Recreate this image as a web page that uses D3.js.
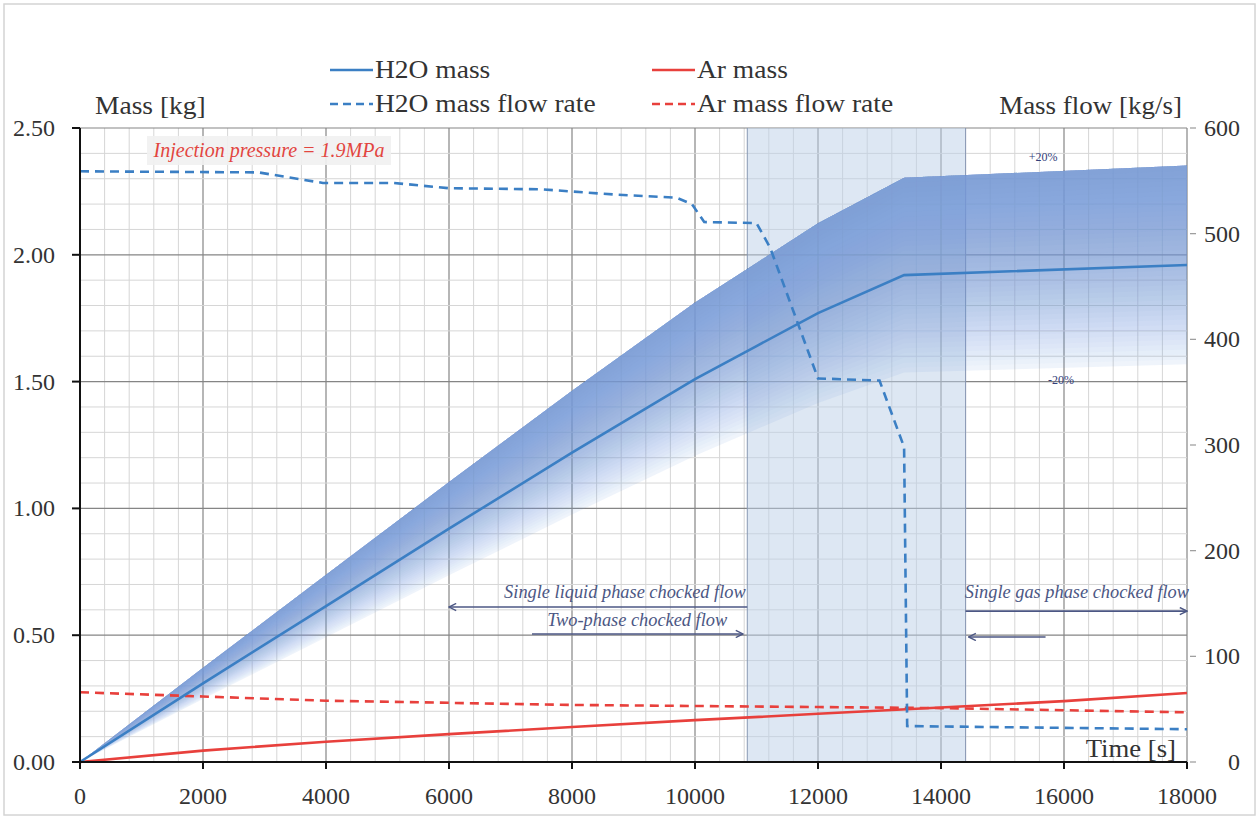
<!DOCTYPE html>
<html><head><meta charset="utf-8">
<script src="https://cdn.jsdelivr.net/npm/d3@7"></script>
<style>
body{margin:0;background:#fff}
svg{display:block}
text{font-family:"Liberation Serif","Times New Roman",serif;fill:#333}
</style>
</head><body>
<svg id="c" width="1260" height="819"></svg>
<script>
// ---------- data ----------
const timeTicks = [0, 2000, 4000, 6000, 8000, 10000, 12000, 14000, 16000, 18000];
const massTicks = [0, 0.5, 1.0, 1.5, 2.0, 2.5];
const flowTicks = [0, 100, 200, 300, 400, 500, 600];

const h2oMassTime = [0, 2000, 4000, 6000, 8000, 10000, 11000, 12000, 13400, 18000];
const h2oMass     = [0, 0.31, 0.615, 0.92, 1.22, 1.51, 1.64, 1.77, 1.92, 1.96];

const arMassTime = [0, 2000, 4000, 6000, 8000, 10000, 12000, 14000, 16000, 18000];
const arMass     = [0, 0.045, 0.08, 0.11, 0.138, 0.165, 0.19, 0.215, 0.24, 0.272];

const h2oFlowTime = [0, 2900, 3950, 5100, 6000, 7500, 8700, 9700, 9950, 10150, 11000, 11220, 12000, 13000, 13400, 13450, 18000];
const h2oFlow     = [559, 558, 548, 548, 543, 542, 537, 534, 528, 511, 510, 487, 363, 361, 298, 34, 31];

const arFlowTime = [0, 2000, 4000, 6000, 8000, 10000, 12000, 14000, 16000, 18000];
const arFlow     = [66, 62, 58, 56, 54, 53, 52, 51, 49, 47];

const bandLow = 0.8, bandHigh = 1.2;          // ±20 % uncertainty band
const shadedRange = [10850, 14400];             // shaded time window

const seriesNames = ["H2O mass", "Ar mass", "H2O mass flow rate", "Ar mass flow rate"];

// ---------- layout ----------
const svg = d3.select("#c");
const L = 80, R = 1187, T = 128, B = 762;
const x = d3.scaleLinear().domain([0, 18000]).range([L, R]);
const yL = d3.scaleLinear().domain([0, 2.5]).range([B, T]);
const yR = d3.scaleLinear().domain([0, 600]).range([B, T]);

const BLUE = "#3b7fc4", RED = "#e8403c", ANN = "#4c5784";

// text helper with horizontal stretch
function txt(g, px, py, s, size, opts = {}) {
  const sx = opts.sx || 1;
  const t = g.append("text")
    .attr("transform", `translate(${px},${py}) scale(${sx},1)`)
    .attr("font-size", size)
    .attr("text-anchor", opts.anchor || "start")
    .text(s);
  if (opts.italic) t.attr("font-style", "italic");
  if (opts.fill) t.style("fill", opts.fill);
  return t;
}

// outer frame
svg.append("rect").attr("x", 4).attr("y", 4).attr("width", 1251).attr("height", 811)
  .attr("fill", "#fff").attr("stroke", "#d4d4d4").attr("stroke-width", 1.5);

// ---------- grid ----------
const grid = svg.append("g");
d3.range(0, 18001, 400).forEach(v => {
  const major = v % 2000 === 0;
  grid.append("line").attr("x1", x(v)).attr("x2", x(v)).attr("y1", T).attr("y2", B)
    .attr("stroke", major ? "#858585" : "#d6d6d6").attr("stroke-width", major ? 1.2 : 1);
});
d3.range(0, 26).forEach(i => {
  const v = i / 10;
  const major = i % 5 === 0;
  grid.append("line").attr("x1", L).attr("x2", R).attr("y1", yL(v)).attr("y2", yL(v))
    .attr("stroke", major ? "#858585" : "#d6d6d6").attr("stroke-width", major ? 1.2 : 1);
});

// shaded window
svg.append("rect").attr("x", x(shadedRange[0])).attr("y", T)
  .attr("width", x(shadedRange[1]) - x(shadedRange[0])).attr("height", B - T)
  .attr("fill", "#bccfe8").attr("fill-opacity", 0.5);
[shadedRange[0], shadedRange[1]].forEach(v =>
  svg.append("line").attr("x1", x(v)).attr("x2", x(v)).attr("y1", T).attr("y2", B)
    .attr("stroke", "#8797b3").attr("stroke-width", 1));

// ---------- uncertainty band (fading) ----------
const h2oData = h2oMassTime.map((t, i) => ({t, m: h2oMass[i]}));
const N = 40;
const alphaAt = t => 0.9 - 0.3 * t - 0.5 * t * t;   // t: 0 at +20 %, 1 at -20 %
let prevA = 0;
const bandG = svg.append("g");
for (let j = 0; j < N; j++) {
  const r = bandLow + (bandHigh - bandLow) * j / N;
  const tMid = (bandHigh - (r + (bandHigh - bandLow) / (2 * N))) / (bandHigh - bandLow);
  const A = alphaAt(tMid);
  const a = 1 - (1 - A) / (1 - prevA);
  prevA = A;
  const area = d3.area().x(d => x(d.t)).y0(d => yL(r * d.m)).y1(d => yL(bandHigh * d.m));
  bandG.append("path").attr("d", area(h2oData)).attr("fill", "rgb(122,158,218)")
    .attr("fill-opacity", Math.max(0, a));
}

// ---------- lines ----------
const lineL = d3.line().x(d => x(d[0])).y(d => yL(d[1]));
const lineR = d3.line().x(d => x(d[0])).y(d => yR(d[1]));
const zip = (a, b) => a.map((v, i) => [v, b[i]]);

svg.append("path").attr("d", lineL(zip(arMassTime, arMass)))
  .attr("fill", "none").attr("stroke", RED).attr("stroke-width", 2.6);
svg.append("path").attr("d", lineR(zip(arFlowTime, arFlow)))
  .attr("fill", "none").attr("stroke", RED).attr("stroke-width", 2.6).attr("stroke-dasharray", "9,6");
svg.append("path").attr("d", lineL(zip(h2oMassTime, h2oMass)))
  .attr("fill", "none").attr("stroke", BLUE).attr("stroke-width", 2.6);
svg.append("path").attr("d", lineR(zip(h2oFlowTime, h2oFlow)))
  .attr("fill", "none").attr("stroke", BLUE).attr("stroke-width", 2.6).attr("stroke-dasharray", "9,6");

// ---------- axes ----------
const ax = svg.append("g");
ax.append("line").attr("x1", L).attr("x2", L).attr("y1", T).attr("y2", B).attr("stroke", "#111").attr("stroke-width", 2);
ax.append("line").attr("x1", L).attr("x2", R).attr("y1", B).attr("y2", B).attr("stroke", "#111").attr("stroke-width", 2);
massTicks.forEach(v => {
  ax.append("line").attr("x1", L - 8).attr("x2", L).attr("y1", yL(v)).attr("y2", yL(v)).attr("stroke", "#111").attr("stroke-width", 2);
  txt(ax, 55, yL(v) + 8, d3.format(".2f")(v), 24, {anchor: "end"});
});
timeTicks.forEach(v => {
  ax.append("line").attr("x1", x(v)).attr("x2", x(v)).attr("y1", B).attr("y2", B + 7).attr("stroke", "#111").attr("stroke-width", 2);
  txt(ax, x(v), 804, String(v), 24, {anchor: "middle"});
});
flowTicks.forEach(v => {
  ax.append("line").attr("x1", R + 3).attr("x2", R + 9).attr("y1", yR(v)).attr("y2", yR(v)).attr("stroke", "#999").attr("stroke-width", 1.2);
  txt(ax, 1240, yR(v) + 8, String(v), 24, {anchor: "end"});
});
txt(ax, 95, 114, "Mass [kg]", 25, {sx: 1.1});
txt(ax, 1182, 114, "Mass flow [kg/s]", 25, {sx: 1.08, anchor: "end"});
txt(ax, 1176, 757, "Time [s]", 25, {sx: 1.07, anchor: "end"});

// ---------- annotations ----------
const ann = svg.append("g");
const defs = svg.append("defs");
defs.append("marker").attr("id", "ah").attr("viewBox", "0 0 10 10").attr("refX", 9).attr("refY", 5)
  .attr("markerWidth", 9).attr("markerHeight", 9).attr("orient", "auto-start-reverse")
  .attr("markerUnits", "userSpaceOnUse")
  .append("path").attr("d", "M1,1 L9,5 L1,9").attr("fill", "none").attr("stroke", ANN).attr("stroke-width", 1.6);

const arrows = [
  {from: 10850, to: 6000, y: 0.611},
  {from: 7350, to: 10780, y: 0.505},
  {from: 14400, to: 18000, y: 0.595},
  {from: 15700, to: 14450, y: 0.493}
];
arrows.forEach(a => {
  ann.append("line").attr("x1", x(a.from)).attr("x2", x(a.to)).attr("y1", yL(a.y)).attr("y2", yL(a.y))
    .attr("stroke", ANN).attr("stroke-width", 1.6).attr("marker-end", "url(#ah)");
});
const labels = [
  {t: 8860, y: 0.645, s: "Single liquid phase chocked flow"},
  {t: 9060, y: 0.535, s: "Two-phase chocked flow"},
  {t: 16210, y: 0.645, s: "Single gas phase chocked flow"}
];
labels.forEach(l => {
  txt(ann, x(l.t), yL(l.y), l.s, 18, {anchor: "middle", italic: true, fill: ANN, sx: 1.02});
});
txt(ann, x(15660), yR(569), "+20%", 12, {anchor: "middle", fill: "#33407a"});
txt(ann, x(15950), yR(358), "-20%", 12, {anchor: "middle", fill: "#33407a"});

// injection pressure label
ann.append("rect").attr("x", 147).attr("y", 136).attr("width", 244).attr("height", 29).attr("fill", "#f1f1f1").attr("fill-opacity", 0.92);
txt(ann, 269, 157, "Injection pressure = 1.9MPa", 20, {anchor: "middle", italic: true, fill: "#e2453f"});

// ---------- legend ----------
const leg = svg.append("g");
const legItems = [
  {name: seriesNames[0], color: BLUE, dash: null, lx: 330, ly: 70},
  {name: seriesNames[1], color: RED, dash: null, lx: 652, ly: 70},
  {name: seriesNames[2], color: BLUE, dash: "8,5", lx: 330, ly: 104},
  {name: seriesNames[3], color: RED, dash: "8,5", lx: 652, ly: 104}
];
legItems.forEach(d => {
  leg.append("line").attr("x1", d.lx).attr("x2", d.lx + 43).attr("y1", d.ly).attr("y2", d.ly)
    .attr("stroke", d.color).attr("stroke-width", 2.6).attr("stroke-dasharray", d.dash);
  txt(leg, d.lx + 45, d.ly + 8, d.name, 25, {sx: 1.1});
});
</script>
</body></html>
